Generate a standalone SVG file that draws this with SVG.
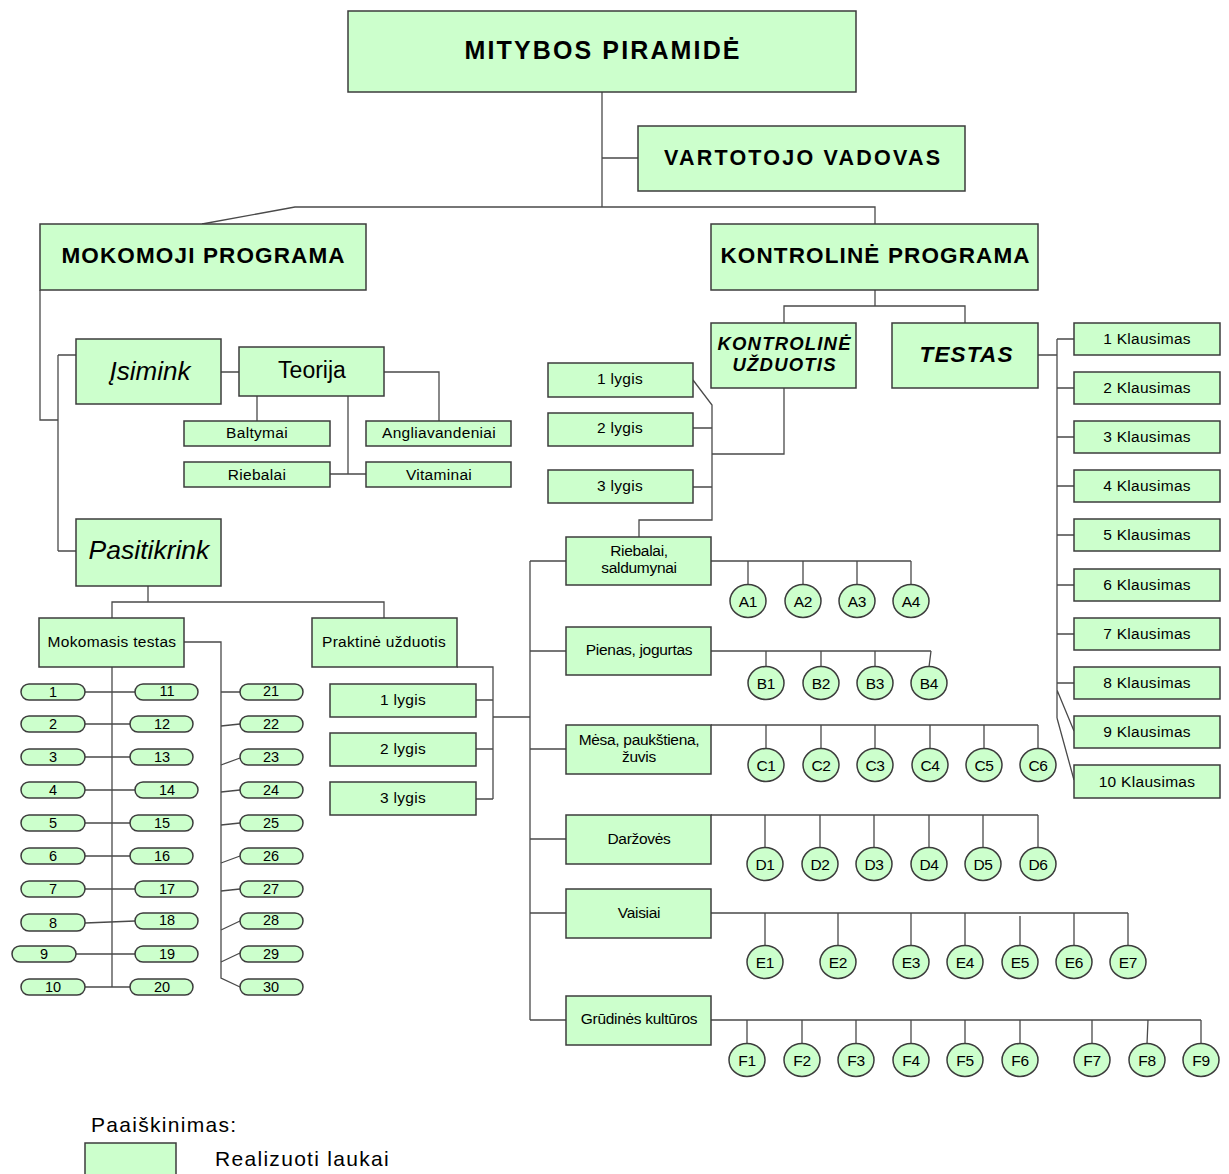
<svg xmlns="http://www.w3.org/2000/svg" width="1229" height="1174" viewBox="0 0 1229 1174">
<style>
  .box{fill:#CCFFCC;stroke:#3c3c3c;stroke-width:1.5}
  .ln{fill:none;stroke:#4a4a4a;stroke-width:1.3}
  text{font-family:"Liberation Sans",Arial,sans-serif;fill:#000;text-anchor:middle}
  .h{font-weight:bold}
  .hi{font-weight:bold;font-style:italic}
  .it{font-style:italic}
  .s{font-size:15.5px;letter-spacing:0.3px}
  .n{font-size:14.5px}
  .c{font-size:15.5px;letter-spacing:-0.3px}
  .lg{font-size:21px;letter-spacing:1.3px;text-anchor:start}
</style>
<rect width="1229" height="1174" fill="#fff"/>

<!-- connectors -->
<g id="connectors" class="ln">
  <path d="M602 92V207M602 158H638M202 224L295 207H875V224"/>
  <path d="M875 290V306M784 323V306H965V323"/>
  <path d="M784 388V454H712"/>
  <path d="M693 380L712 405V520H639V537M693 428H712M693 487H712"/>
  <path d="M1038 355H1057M1057 339V718M1057 339H1074M1057 388H1074M1057 437H1074M1057 486H1074M1057 535H1074M1057 585H1074M1057 634H1074M1057 683H1074M1057 690L1074 731M1057 718L1074 780"/>
  <path d="M40 290V420H58M58 355V551M58 355H76M58 551H76"/>
  <path d="M221 372H239M384 372H439V421M257 396V421M348 396V474M330 474H366"/>
  <path d="M148 586V602M112 618V602H384V618"/>
  <path d="M112 667V987M184 642H221V978L240 987"/>
  <path d="M85 692H135M85 724H130M85 757H130M85 790H135M85 823H130M85 856H130M85 889H135M85 923L135 921M76 954H135M85 987H130"/>
  <path d="M221 692H240M221 726L240 724M221 765L240 758M221 792L240 790M221 825L240 823M221 863L240 856M221 891L240 889M221 930L240 921M221 962L240 953"/>
  <path d="M457 667H493V799M476 700H493M476 749H493M476 799H493M493 717H530"/>
  <path d="M530 561V1020M530 561H566M530 651H566M530 749H566M530 839H566M530 913H566M530 1020H566"/>
  <path d="M711 561H911M748 561V585M803 561V585M857 561V585M911 561V585"/>
  <path d="M711 651H931M766 651V667M821 651V667M875 651V667M931 651L929 667"/>
  <path d="M711 725H1038M766 725V749M821 725V749M875 725V749M930 725V749M984 725V749M1038 725V749"/>
  <path d="M711 815H1038M765 815V848M820 815V848M874 815V848M929 815V848M983 815V848M1038 815V848"/>
  <path d="M711 913H1128M765 913V946M838 913V946M911 913V946M965 913V946M1020 916V946M1074 913V946M1128 913V946"/>
  <path d="M711 1020H1201M747 1020V1044M802 1020V1044M856 1020V1044M911 1020V1044M965 1020V1044M1020 1020V1044M1092 1020V1044M1148 1020L1147 1044M1201 1020V1044"/>
</g>

<!-- top level -->
<g id="mitybos-piramide"><rect class="box" x="348" y="11" width="508" height="81"/><text class="h" x="602" y="59" font-size="25" textLength="275" lengthAdjust="spacing">MITYBOS PIRAMIDĖ</text></g>
<g id="vartotojo-vadovas"><rect class="box" x="638" y="126" width="327" height="65"/><text class="h" x="802" y="165" font-size="21.5" textLength="276" lengthAdjust="spacing">VARTOTOJO VADOVAS</text></g>
<g id="mokomoji-programa"><rect class="box" x="40" y="224" width="326" height="66"/><text class="h" x="203" y="263" font-size="22.5" textLength="283" lengthAdjust="spacing">MOKOMOJI PROGRAMA</text></g>
<g id="kontroline-programa"><rect class="box" x="711" y="224" width="327" height="66"/><text class="h" x="875" y="263" font-size="22.5" textLength="309" lengthAdjust="spacing">KONTROLINĖ PROGRAMA</text></g>
<g id="kontroline-uzduotis"><rect class="box" x="711" y="323" width="145" height="65"/><text class="hi" x="784" y="350" font-size="18.5" textLength="133" lengthAdjust="spacing">KONTROLINĖ</text><text class="hi" x="784" y="371" font-size="18.5" textLength="103" lengthAdjust="spacing">UŽDUOTIS</text></g>
<g id="testas"><rect class="box" x="892" y="323" width="146" height="65"/><text class="hi" x="966" y="362" font-size="22.5" textLength="93" lengthAdjust="spacing">TESTAS</text></g>

<!-- Įsimink branch -->
<g id="isimink"><rect class="box" x="76" y="339" width="145" height="65"/><text class="it" x="150" y="380" font-size="26">Įsimink</text></g>
<g id="teorija"><rect class="box" x="239" y="347" width="145" height="49"/><text x="312" y="378" font-size="23">Teorija</text></g>
<g id="baltymai"><rect class="box" x="184" y="421" width="146" height="25"/><text class="s" x="257" y="438">Baltymai</text></g>
<g id="angliavandeniai"><rect class="box" x="366" y="421" width="145" height="25"/><text class="s" x="439" y="438">Angliavandeniai</text></g>
<g id="riebalai"><rect class="box" x="184" y="462" width="146" height="25"/><text class="s" x="257" y="480">Riebalai</text></g>
<g id="vitaminai"><rect class="box" x="366" y="462" width="145" height="25"/><text class="s" x="439" y="480">Vitaminai</text></g>

<!-- Pasitikrink branch -->
<g id="pasitikrink"><rect class="box" x="76" y="519" width="145" height="67"/><text class="it" x="149" y="559" font-size="26.5">Pasitikrink</text></g>
<g id="mokomasis-testas"><rect class="box" x="39" y="618" width="145" height="49"/><text class="s" x="112" y="647">Mokomasis testas</text></g>
<g id="praktine-uzduotis"><rect class="box" x="312" y="618" width="145" height="49"/><text class="s" x="384" y="647">Praktinė užduotis</text></g>
<g id="p-lygis-1"><rect class="box" x="330" y="684" width="146" height="33"/><text class="s" x="403" y="705">1 lygis</text></g>
<g id="p-lygis-2"><rect class="box" x="330" y="733" width="146" height="33"/><text class="s" x="403" y="754">2 lygis</text></g>
<g id="p-lygis-3"><rect class="box" x="330" y="782" width="146" height="33"/><text class="s" x="403" y="803">3 lygis</text></g>

<!-- numbered questions of the practice test -->
<g id="q1"><rect class="box" x="21" y="684" width="64" height="16" rx="8"/><text class="n" x="53" y="697">1</text></g>
<g id="q2"><rect class="box" x="21" y="716" width="64" height="16" rx="8"/><text class="n" x="53" y="729">2</text></g>
<g id="q3"><rect class="box" x="21" y="749" width="64" height="16" rx="8"/><text class="n" x="53" y="762">3</text></g>
<g id="q4"><rect class="box" x="21" y="782" width="64" height="16" rx="8"/><text class="n" x="53" y="795">4</text></g>
<g id="q5"><rect class="box" x="21" y="815" width="64" height="16" rx="8"/><text class="n" x="53" y="828">5</text></g>
<g id="q6"><rect class="box" x="21" y="848" width="64" height="16" rx="8"/><text class="n" x="53" y="861">6</text></g>
<g id="q7"><rect class="box" x="21" y="881" width="64" height="16" rx="8"/><text class="n" x="53" y="894">7</text></g>
<g id="q8"><rect class="box" x="21" y="914" width="64" height="17" rx="8"/><text class="n" x="53" y="928">8</text></g>
<g id="q9"><rect class="box" x="12" y="946" width="64" height="16" rx="8"/><text class="n" x="44" y="959">9</text></g>
<g id="q10"><rect class="box" x="21" y="979" width="64" height="16" rx="8"/><text class="n" x="53" y="992">10</text></g>
<g id="q11"><rect class="box" x="135" y="684" width="63" height="16" rx="8"/><text class="n" x="167" y="696">11</text></g>
<g id="q12"><rect class="box" x="130" y="716" width="63" height="16" rx="8"/><text class="n" x="162" y="729">12</text></g>
<g id="q13"><rect class="box" x="130" y="749" width="63" height="16" rx="8"/><text class="n" x="162" y="762">13</text></g>
<g id="q14"><rect class="box" x="135" y="782" width="63" height="16" rx="8"/><text class="n" x="167" y="795">14</text></g>
<g id="q15"><rect class="box" x="130" y="815" width="63" height="16" rx="8"/><text class="n" x="162" y="828">15</text></g>
<g id="q16"><rect class="box" x="130" y="848" width="63" height="16" rx="8"/><text class="n" x="162" y="861">16</text></g>
<g id="q17"><rect class="box" x="135" y="881" width="63" height="16" rx="8"/><text class="n" x="167" y="894">17</text></g>
<g id="q18"><rect class="box" x="135" y="913" width="63" height="16" rx="8"/><text class="n" x="167" y="925">18</text></g>
<g id="q19"><rect class="box" x="135" y="946" width="63" height="16" rx="8"/><text class="n" x="167" y="959">19</text></g>
<g id="q20"><rect class="box" x="130" y="979" width="63" height="16" rx="8"/><text class="n" x="162" y="992">20</text></g>
<g id="q21"><rect class="box" x="240" y="684" width="63" height="16" rx="8"/><text class="n" x="271" y="696">21</text></g>
<g id="q22"><rect class="box" x="240" y="716" width="63" height="16" rx="8"/><text class="n" x="271" y="729">22</text></g>
<g id="q23"><rect class="box" x="240" y="749" width="63" height="16" rx="8"/><text class="n" x="271" y="762">23</text></g>
<g id="q24"><rect class="box" x="240" y="782" width="63" height="16" rx="8"/><text class="n" x="271" y="795">24</text></g>
<g id="q25"><rect class="box" x="240" y="815" width="63" height="16" rx="8"/><text class="n" x="271" y="828">25</text></g>
<g id="q26"><rect class="box" x="240" y="848" width="63" height="16" rx="8"/><text class="n" x="271" y="861">26</text></g>
<g id="q27"><rect class="box" x="240" y="881" width="63" height="16" rx="8"/><text class="n" x="271" y="894">27</text></g>
<g id="q28"><rect class="box" x="240" y="913" width="63" height="16" rx="8"/><text class="n" x="271" y="925">28</text></g>
<g id="q29"><rect class="box" x="240" y="946" width="63" height="16" rx="8"/><text class="n" x="271" y="959">29</text></g>
<g id="q30"><rect class="box" x="240" y="979" width="63" height="16" rx="8"/><text class="n" x="271" y="992">30</text></g>

<!-- control task levels -->
<g id="k-lygis-1"><rect class="box" x="548" y="363" width="145" height="34"/><text class="s" x="620" y="384">1 lygis</text></g>
<g id="k-lygis-2"><rect class="box" x="548" y="413" width="145" height="33"/><text class="s" x="620" y="433">2 lygis</text></g>
<g id="k-lygis-3"><rect class="box" x="548" y="470" width="145" height="33"/><text class="s" x="620" y="491">3 lygis</text></g>

<!-- food groups -->
<g id="riebalai-saldumynai"><rect class="box" x="566" y="537" width="145" height="48"/><text class="c" x="639" y="556">Riebalai,</text><text class="c" x="639" y="573">saldumynai</text></g>
<g id="pienas-jogurtas"><rect class="box" x="566" y="627" width="145" height="48"/><text class="c" x="639" y="655">Pienas, jogurtas</text></g>
<g id="mesa"><rect class="box" x="566" y="725" width="145" height="49"/><text class="c" x="639" y="745">Mėsa, paukštiena,</text><text class="c" x="639" y="762">žuvis</text></g>
<g id="darzoves"><rect class="box" x="566" y="815" width="145" height="49"/><text class="c" x="639" y="844">Daržovės</text></g>
<g id="vaisiai"><rect class="box" x="566" y="889" width="145" height="49"/><text class="c" x="639" y="918">Vaisiai</text></g>
<g id="grudines-kulturos"><rect class="box" x="566" y="996" width="145" height="49"/><text class="c" x="639" y="1024">Grūdinės kultūros</text></g>

<!-- food items -->
<g id="A1"><ellipse class="box" cx="748" cy="601" rx="18" ry="16.5"/><text class="c" x="748" y="607">A1</text></g>
<g id="A2"><ellipse class="box" cx="803" cy="601" rx="18" ry="16.5"/><text class="c" x="803" y="607">A2</text></g>
<g id="A3"><ellipse class="box" cx="857" cy="601" rx="18" ry="16.5"/><text class="c" x="857" y="607">A3</text></g>
<g id="A4"><ellipse class="box" cx="911" cy="601" rx="18" ry="16.5"/><text class="c" x="911" y="607">A4</text></g>
<g id="B1"><ellipse class="box" cx="766" cy="683" rx="18" ry="16.5"/><text class="c" x="766" y="689">B1</text></g>
<g id="B2"><ellipse class="box" cx="821" cy="683" rx="18" ry="16.5"/><text class="c" x="821" y="689">B2</text></g>
<g id="B3"><ellipse class="box" cx="875" cy="683" rx="18" ry="16.5"/><text class="c" x="875" y="689">B3</text></g>
<g id="B4"><ellipse class="box" cx="929" cy="683" rx="18" ry="16.5"/><text class="c" x="929" y="689">B4</text></g>
<g id="C1"><ellipse class="box" cx="766" cy="765" rx="18" ry="16.5"/><text class="c" x="766" y="771">C1</text></g>
<g id="C2"><ellipse class="box" cx="821" cy="765" rx="18" ry="16.5"/><text class="c" x="821" y="771">C2</text></g>
<g id="C3"><ellipse class="box" cx="875" cy="765" rx="18" ry="16.5"/><text class="c" x="875" y="771">C3</text></g>
<g id="C4"><ellipse class="box" cx="930" cy="765" rx="18" ry="16.5"/><text class="c" x="930" y="771">C4</text></g>
<g id="C5"><ellipse class="box" cx="984" cy="765" rx="18" ry="16.5"/><text class="c" x="984" y="771">C5</text></g>
<g id="C6"><ellipse class="box" cx="1038" cy="765" rx="18" ry="16.5"/><text class="c" x="1038" y="771">C6</text></g>
<g id="D1"><ellipse class="box" cx="765" cy="864" rx="18" ry="16.5"/><text class="c" x="765" y="870">D1</text></g>
<g id="D2"><ellipse class="box" cx="820" cy="864" rx="18" ry="16.5"/><text class="c" x="820" y="870">D2</text></g>
<g id="D3"><ellipse class="box" cx="874" cy="864" rx="18" ry="16.5"/><text class="c" x="874" y="870">D3</text></g>
<g id="D4"><ellipse class="box" cx="929" cy="864" rx="18" ry="16.5"/><text class="c" x="929" y="870">D4</text></g>
<g id="D5"><ellipse class="box" cx="983" cy="864" rx="18" ry="16.5"/><text class="c" x="983" y="870">D5</text></g>
<g id="D6"><ellipse class="box" cx="1038" cy="864" rx="18" ry="16.5"/><text class="c" x="1038" y="870">D6</text></g>
<g id="E1"><ellipse class="box" cx="765" cy="962" rx="18" ry="16.5"/><text class="c" x="765" y="968">E1</text></g>
<g id="E2"><ellipse class="box" cx="838" cy="962" rx="18" ry="16.5"/><text class="c" x="838" y="968">E2</text></g>
<g id="E3"><ellipse class="box" cx="911" cy="962" rx="18" ry="16.5"/><text class="c" x="911" y="968">E3</text></g>
<g id="E4"><ellipse class="box" cx="965" cy="962" rx="18" ry="16.5"/><text class="c" x="965" y="968">E4</text></g>
<g id="E5"><ellipse class="box" cx="1020" cy="962" rx="18" ry="16.5"/><text class="c" x="1020" y="968">E5</text></g>
<g id="E6"><ellipse class="box" cx="1074" cy="962" rx="18" ry="16.5"/><text class="c" x="1074" y="968">E6</text></g>
<g id="E7"><ellipse class="box" cx="1128" cy="962" rx="18" ry="16.5"/><text class="c" x="1128" y="968">E7</text></g>
<g id="F1"><ellipse class="box" cx="747" cy="1060" rx="18" ry="16.5"/><text class="c" x="747" y="1066">F1</text></g>
<g id="F2"><ellipse class="box" cx="802" cy="1060" rx="18" ry="16.5"/><text class="c" x="802" y="1066">F2</text></g>
<g id="F3"><ellipse class="box" cx="856" cy="1060" rx="18" ry="16.5"/><text class="c" x="856" y="1066">F3</text></g>
<g id="F4"><ellipse class="box" cx="911" cy="1060" rx="18" ry="16.5"/><text class="c" x="911" y="1066">F4</text></g>
<g id="F5"><ellipse class="box" cx="965" cy="1060" rx="18" ry="16.5"/><text class="c" x="965" y="1066">F5</text></g>
<g id="F6"><ellipse class="box" cx="1020" cy="1060" rx="18" ry="16.5"/><text class="c" x="1020" y="1066">F6</text></g>
<g id="F7"><ellipse class="box" cx="1092" cy="1060" rx="18" ry="16.5"/><text class="c" x="1092" y="1066">F7</text></g>
<g id="F8"><ellipse class="box" cx="1147" cy="1060" rx="18" ry="16.5"/><text class="c" x="1147" y="1066">F8</text></g>
<g id="F9"><ellipse class="box" cx="1201" cy="1060" rx="18" ry="16.5"/><text class="c" x="1201" y="1066">F9</text></g>

<!-- test questions -->
<g id="klausimas-1"><rect class="box" x="1074" y="323" width="146" height="32"/><text class="s" x="1147" y="344">1 Klausimas</text></g>
<g id="klausimas-2"><rect class="box" x="1074" y="372" width="146" height="32"/><text class="s" x="1147" y="393">2 Klausimas</text></g>
<g id="klausimas-3"><rect class="box" x="1074" y="421" width="146" height="32"/><text class="s" x="1147" y="442">3 Klausimas</text></g>
<g id="klausimas-4"><rect class="box" x="1074" y="470" width="146" height="32"/><text class="s" x="1147" y="491">4 Klausimas</text></g>
<g id="klausimas-5"><rect class="box" x="1074" y="519" width="146" height="32"/><text class="s" x="1147" y="540">5 Klausimas</text></g>
<g id="klausimas-6"><rect class="box" x="1074" y="569" width="146" height="32"/><text class="s" x="1147" y="590">6 Klausimas</text></g>
<g id="klausimas-7"><rect class="box" x="1074" y="618" width="146" height="32"/><text class="s" x="1147" y="639">7 Klausimas</text></g>
<g id="klausimas-8"><rect class="box" x="1074" y="667" width="146" height="32"/><text class="s" x="1147" y="688">8 Klausimas</text></g>
<g id="klausimas-9"><rect class="box" x="1074" y="716" width="146" height="32"/><text class="s" x="1147" y="737">9 Klausimas</text></g>
<g id="klausimas-10"><rect class="box" x="1074" y="765" width="146" height="33"/><text class="s" x="1147" y="787">10 Klausimas</text></g>

<!-- legend -->
<g id="legend">
  <text class="lg" x="91" y="1132">Paaiškinimas:</text>
  <rect class="box" x="85" y="1143" width="91" height="36"/>
  <text class="lg" x="215" y="1166">Realizuoti laukai</text>
</g>
</svg>
